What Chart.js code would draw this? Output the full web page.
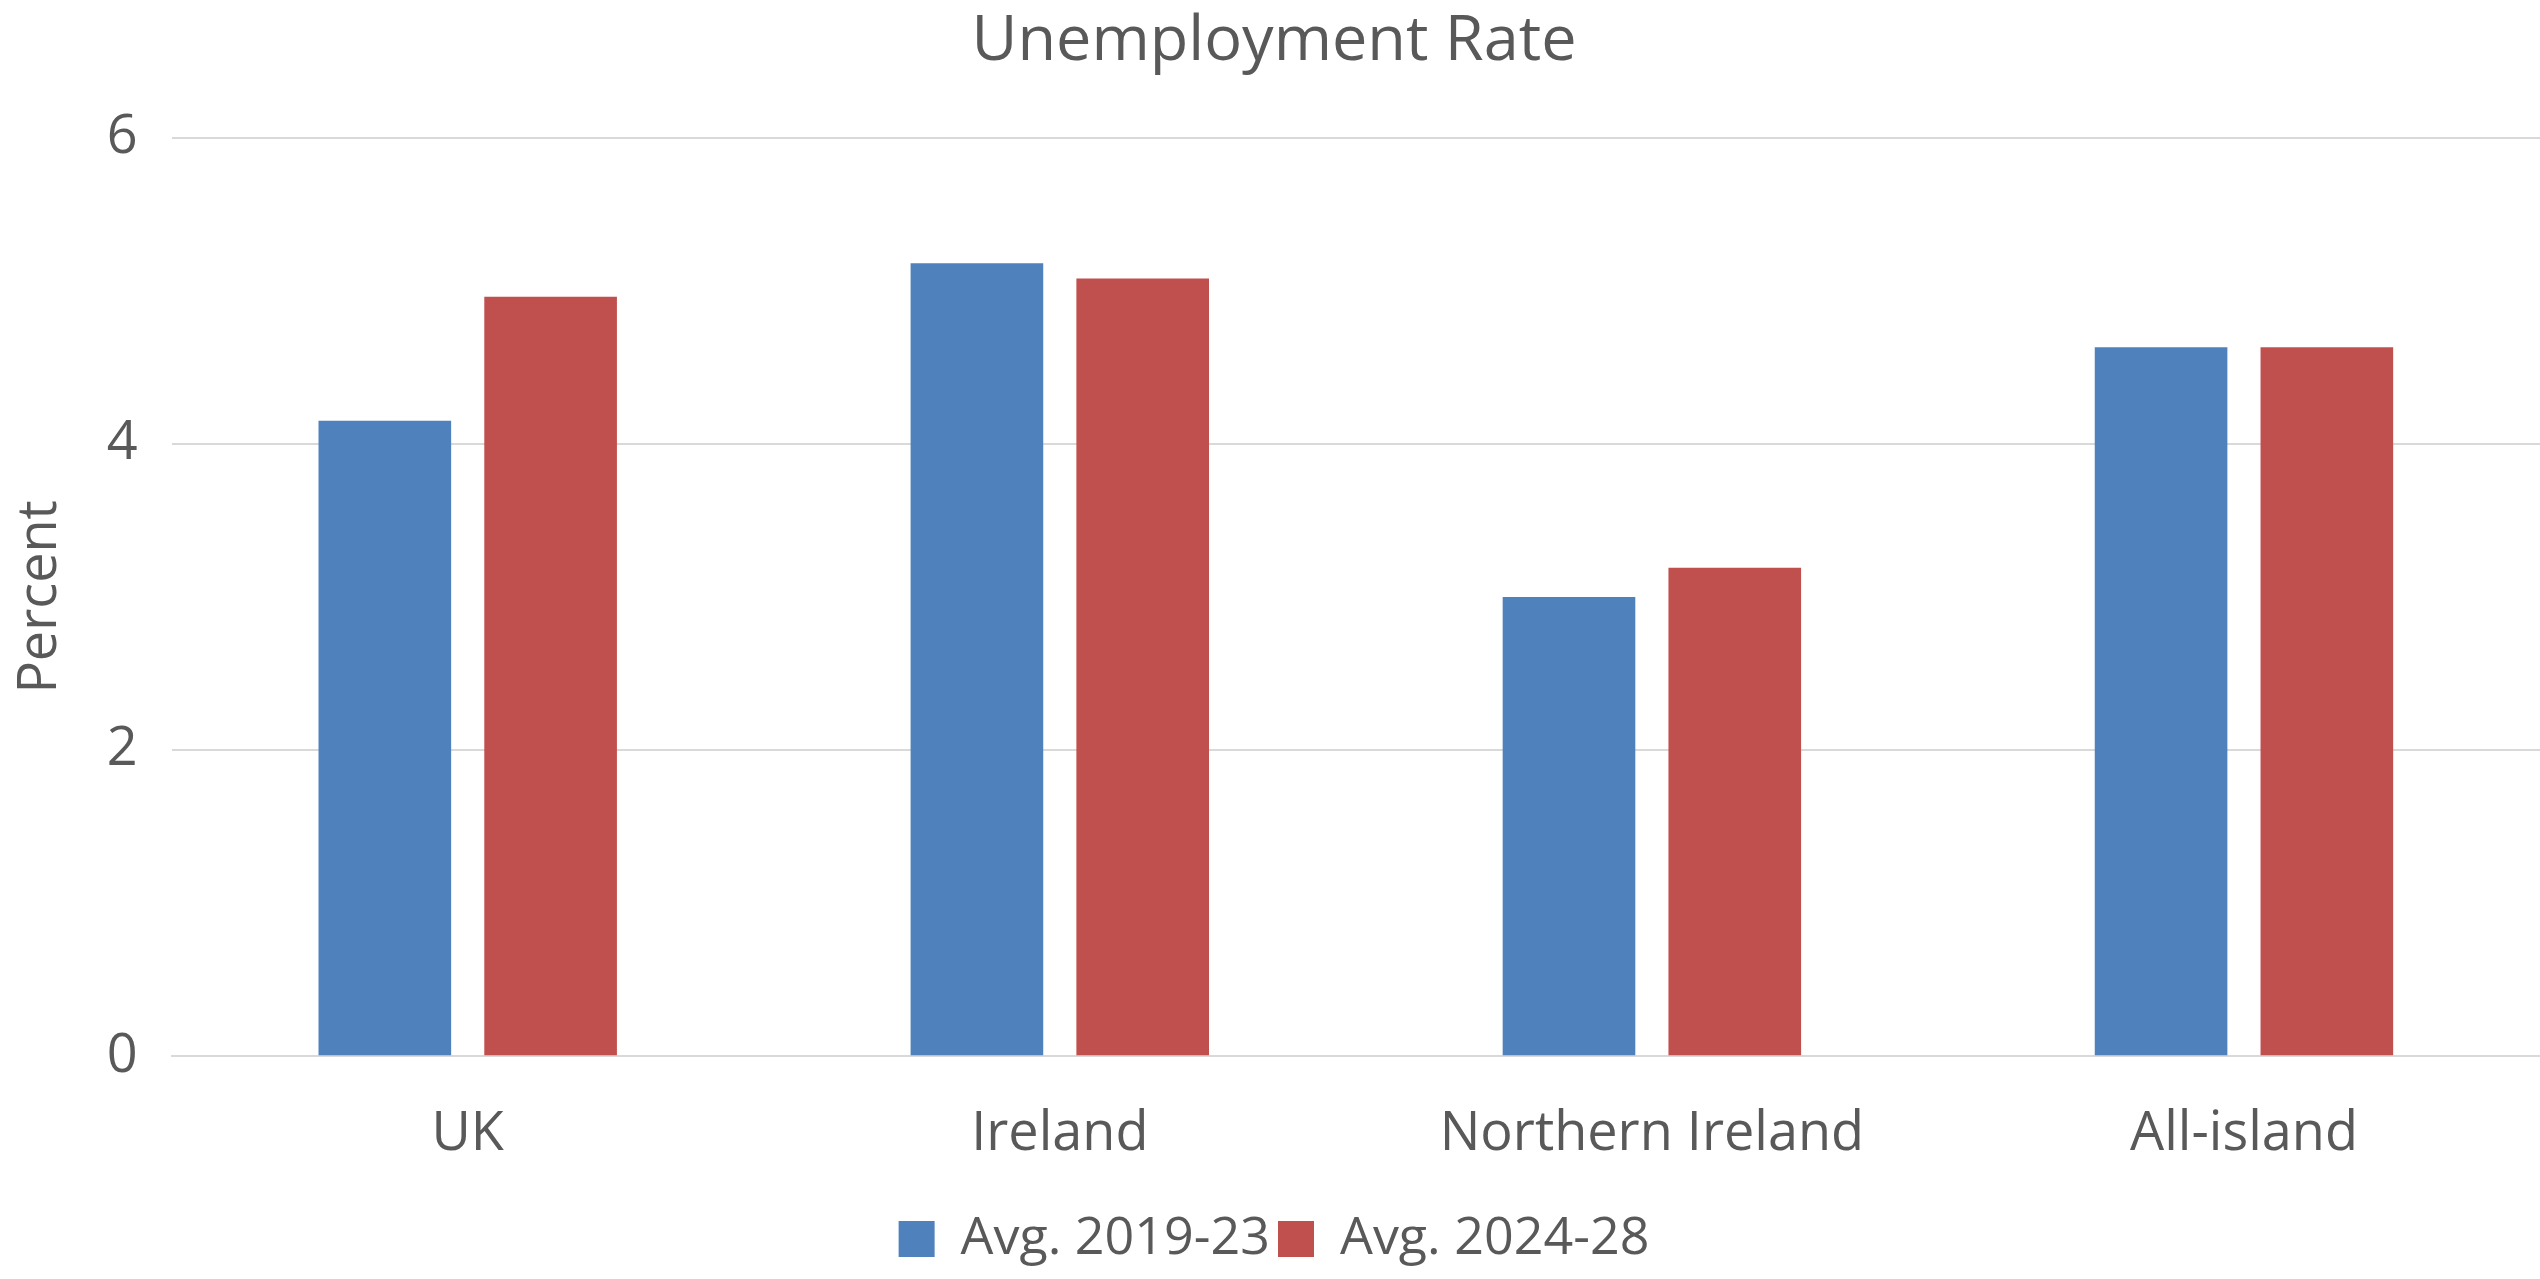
<!DOCTYPE html>
<html lang="en">
  <head>
    <meta charset="UTF-8" />
    <title>Unemployment Rate</title>
    <script src="https://cdn.jsdelivr.net/npm/chart.js"></script>
    <style>
      body { margin: 0; background: #fff; }
      .wrap { width: 2540px; height: 1279px; }
    </style>
  </head>
  <body>
    <div class="wrap"><canvas id="chart"></canvas></div>
    <script>
      const categories = ["UK", "Ireland", "Northern Ireland", "All-island"];
      const avg2019_23 = [4.15, 5.18, 3.0, 4.63];
      const avg2024_28 = [4.96, 5.08, 3.19, 4.63];
      const yTicks = [0, 2, 4, 6];

      Chart.defaults.font.family = "'Open Sans', sans-serif";
      Chart.defaults.color = "#595959";

      new Chart(document.getElementById("chart"), {
        type: "bar",
        data: {
          labels: categories,
          datasets: [
            { label: "Avg. 2019-23", data: avg2019_23, backgroundColor: "#4f81bd" },
            { label: "Avg. 2024-28", data: avg2024_28, backgroundColor: "#c0504d" },
          ],
        },
        options: {
          responsive: true,
          maintainAspectRatio: false,
          animation: false,
          categoryPercentage: 0.56,
          barPercentage: 0.8,
          layout: { padding: { top: 0, right: 0, bottom: 4, left: 8 } },
          plugins: {
            title: {
              display: true,
              text: "Unemployment Rate",
              font: { size: 63, weight: "normal" },
              padding: { top: 4, bottom: 58 },
            },
            legend: {
              position: "bottom",
              labels: { font: { size: 52 }, boxWidth: 36, boxHeight: 36, padding: 8 },
            },
            tooltip: { enabled: false },
          },
          scales: {
            x: {
              grid: { display: false },
              border: { color: "#d9d9d9", width: 2 },
              ticks: { font: { size: 54 }, padding: 38 },
            },
            y: {
              min: 0,
              max: 6,
              afterBuildTicks: (axis) => { axis.ticks = yTicks.map((v) => ({ value: v })); },
              grid: { color: "#d9d9d9", lineWidth: 2, drawTicks: false },
              border: { display: false },
              ticks: { font: { size: 54 }, padding: 34 },
              title: { display: true, text: "Percent", font: { size: 54 }, padding: 0 },
            },
          },
        },
      });
    </script>
  </body>
</html>
